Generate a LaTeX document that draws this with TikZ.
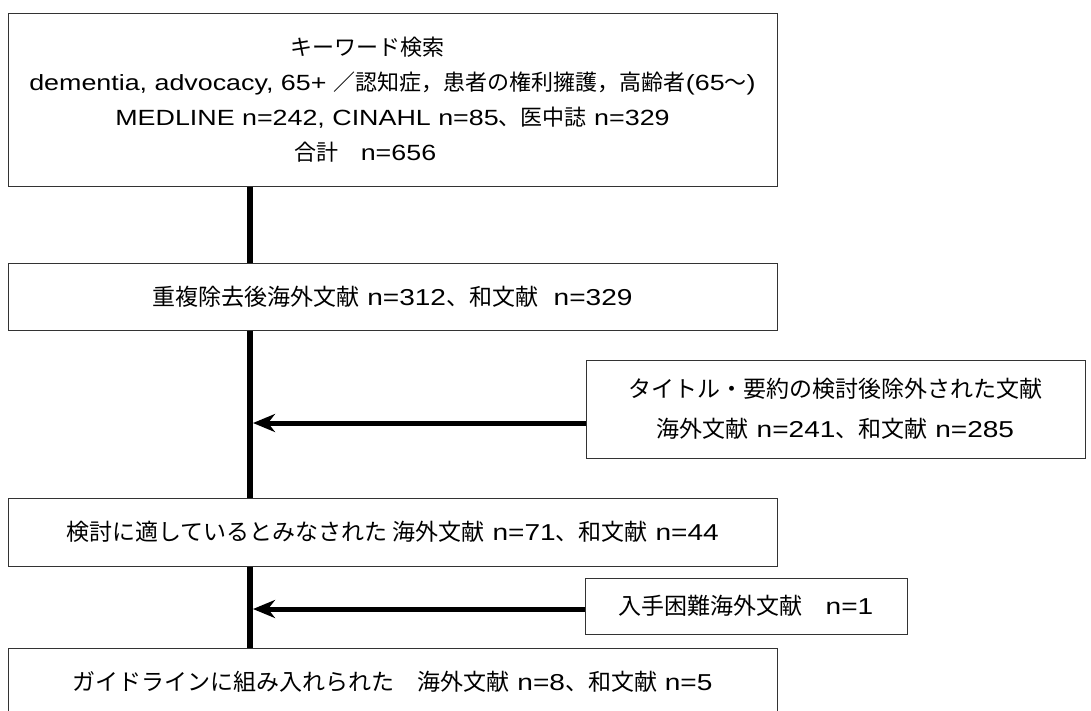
\documentclass[tikz,border=0pt]{standalone}
\usepackage{fontspec}
\setmainfont{Liberation Sans}[FakeStretch=1.22]
\newfontfamily\jp{Noto Sans CJK JP}
\usetikzlibrary{arrows.meta}
\tikzset{
  box/.style={draw=black!80, line width=1pt, fill=white, inner sep=0pt, align=center,
    font=\fontsize{23}{40}\selectfont},
  topbox/.style={box, font=\fontsize{22}{35}\selectfont},
  spine/.style={line width=6pt, black},
  arr/.style={line width=5pt, black, -{Stealth[length=22pt,width=18pt,inset=7pt]}},
}
\begin{document}
\begin{tikzpicture}[x=1pt,y=-1pt]
\useasboundingbox[fill=white] (0,0) rectangle (1091,710);
\coordinate (sp) at (250,0);
\node[topbox, minimum width=769pt, minimum height=173pt] (b1) at (392.5,99.5)
  {{\jp キーワード検索}\hspace*{50pt}\\
   dementia, advocacy, 65+ {\jp ／認知症，患者の権利擁護，高齢者}(65{\jp ～})\\
   MEDLINE n=242, CINAHL n=85{\jp 、医中誌} n=329\\
   {\jp 合計　}n=656\hspace*{54pt}};
\node[box, minimum width=769pt, minimum height=67pt] (b2) at (392.5,296.5)
  {{\jp 重複除去後海外文献} n=312{\jp 、和文献}~~n=329};
\node[box, minimum width=499pt, minimum height=98pt] (b3) at (835.5,409)
  {{\jp タイトル・要約の検討後除外された文献}\\
   {\jp 海外文献} n=241{\jp 、和文献} n=285};
\node[box, minimum width=769pt, minimum height=68pt] (b4) at (392.5,532)
  {{\jp 検討に適しているとみなされた 海外文献} n=71{\jp 、和文献} n=44};
\node[box, minimum width=322pt, minimum height=56pt] (b5) at (746,606)
  {{\jp 入手困難海外文献　}n=1};
\node[box, minimum width=769pt, minimum height=67pt] (b6) at (392.5,681.5)
  {{\jp ガイドラインに組み入れられた　海外文献} n=8{\jp 、和文献} n=5};
\draw[spine] (b1.south -| sp) -- (b2.north -| sp);
\draw[spine] (b2.south -| sp) -- (b4.north -| sp);
\draw[spine] (b4.south -| sp) -- (b6.north -| sp);
\coordinate (t1) at (253,423);
\coordinate (t2) at (253,609);
\draw[arr] (b3.west |- t1) -- (t1);
\draw[arr] (b5.west |- t2) -- (t2);
\end{tikzpicture}
\end{document}
